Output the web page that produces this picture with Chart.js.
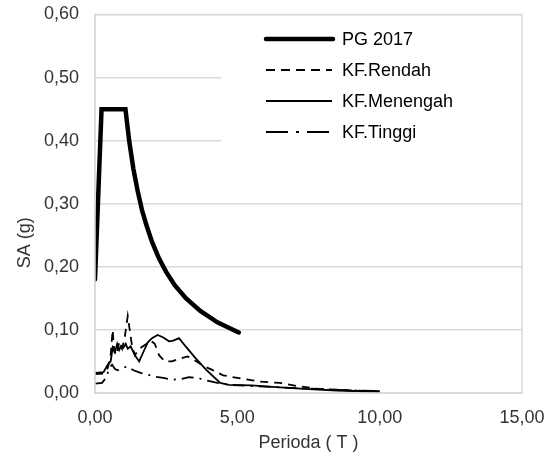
<!DOCTYPE html>
<html lang="id">
  <head>
    <meta charset="utf-8" />
    <title>Spektrum Respons</title>
    <style>
      * { margin: 0; padding: 0; box-sizing: border-box; }
      body { background: #ffffff; }
      .wrapper { position: relative; width: 555px; height: 455px; }
    </style>
  </head>
  <body>
    <div class="wrapper">
      <canvas id="chart" width="555" height="455"></canvas>
    </div>
    <script src="https://cdn.jsdelivr.net/npm/chart.js@4.4.1/dist/chart.umd.min.js"></script>
    <script>
      // Spektrum desain PG 2017
      const pgT = [0, 0.23, 1.07, 1.2, 1.35, 1.5, 1.65, 1.8, 2.0, 2.25, 2.5, 2.8, 3.2, 3.7, 4.3, 5.05];
      const pgSA = [0.18, 0.45, 0.45, 0.4, 0.355, 0.32, 0.29, 0.267, 0.24, 0.213, 0.192, 0.171, 0.15, 0.13, 0.112, 0.096];

      // KF.Rendah
      const rendahT = [0, 0.3, 0.45, 0.55, 0.62, 0.68, 0.75, 0.85, 0.95, 1.05, 1.15, 1.22, 1.3, 1.4, 1.55, 1.75, 1.95, 2.1, 2.25, 2.45, 2.7, 2.95, 3.25, 3.5, 3.8, 4.1, 4.5, 5.0, 5.8, 6.5, 7.1, 7.8, 9.0, 10.0];
      const rendahSA = [0.03, 0.031, 0.04, 0.06, 0.1, 0.065, 0.06, 0.08, 0.07, 0.09, 0.122, 0.1, 0.075, 0.06, 0.07, 0.076, 0.083, 0.078, 0.06, 0.05, 0.05, 0.054, 0.058, 0.052, 0.043, 0.037, 0.028, 0.024, 0.018, 0.016, 0.011, 0.007, 0.004, 0.003];

      // KF.Menengah
      const menengahT = [0, 0.3, 0.45, 0.55, 0.62, 0.7, 0.78, 0.85, 0.92, 1.0, 1.08, 1.15, 1.25, 1.4, 1.55, 1.7, 1.85, 2.0, 2.2, 2.4, 2.6, 2.75, 2.95, 3.2, 3.5, 3.9, 4.4, 4.7, 5.5, 6.5, 7.5, 8.5, 10.0];
      const menengahSA = [0.032, 0.033, 0.045, 0.05, 0.072, 0.065, 0.078, 0.068, 0.075, 0.072, 0.078, 0.07, 0.074, 0.06, 0.05, 0.065, 0.08, 0.087, 0.092, 0.088, 0.082, 0.083, 0.087, 0.073, 0.057, 0.037, 0.016, 0.013, 0.012, 0.009, 0.006, 0.004, 0.002];

      // KF.Tinggi
      const tinggiT = [0, 0.25, 0.4, 0.5, 0.6, 0.7, 0.8, 0.95, 1.15, 1.35, 1.6, 1.85, 2.1, 2.4, 2.7, 3.0, 3.3, 3.6, 3.9, 4.3, 4.7, 5.5, 6.5, 7.5, 8.5, 10.0];
      const tinggiSA = [0.015, 0.016, 0.025, 0.04, 0.045, 0.038, 0.036, 0.04, 0.042, 0.036, 0.032, 0.029, 0.026, 0.024, 0.021, 0.022, 0.025, 0.024, 0.02, 0.016, 0.013, 0.011, 0.009, 0.007, 0.005, 0.003];

      const xTicks = [0, 5, 10, 15];
      const yTicks = [0, 0.1, 0.2, 0.3, 0.4, 0.5, 0.6];

      const FONT = "'Liberation Sans', Arial, sans-serif";
      const TEXT = "#333333";
      const GRID = "#d9d9d9";

      const toPoints = (xs, ys) => xs.map((x, i) => ({ x: x, y: ys[i] }));
      const comma = (v) => Number(v).toFixed(2).replace(".", ",");

      // Legend in the top right of the plot area, drawn on a white box
      const legendBox = {
        id: "legendBox",
        afterDatasetsDraw(chart) {
          const { ctx, chartArea } = chart;
          const left = chartArea.left + 126;
          ctx.save();
          ctx.fillStyle = "#ffffff";
          ctx.fillRect(left, chartArea.top + 1.5, chartArea.right - left - 1, 135);
          ctx.font = "18px " + FONT;
          ctx.textBaseline = "middle";
          chart.data.datasets.forEach((ds, i) => {
            const y = chartArea.top + 24.5 + i * 31;
            ctx.beginPath();
            ctx.strokeStyle = "#000000";
            ctx.lineWidth = ds.borderWidth;
            ctx.lineCap = i === 0 ? "round" : "butt";
            ctx.setLineDash(ds.legendDash || []);
            ctx.moveTo(left + 45, y);
            ctx.lineTo(left + (i === 0 ? 112 : 111), y);
            ctx.stroke();
            ctx.setLineDash([]);
            ctx.fillStyle = "#000000";
            ctx.fillText(ds.label, left + 121, y + 1);
          });
          ctx.restore();
        },
        afterDraw(chart) {
          const { ctx, chartArea } = chart;
          ctx.save();
          // plot area frame
          ctx.strokeStyle = GRID;
          ctx.lineWidth = 1.5;
          ctx.strokeRect(chartArea.left, chartArea.top, chartArea.right - chartArea.left, chartArea.bottom - chartArea.top);
          // vertical axis title
          ctx.fillStyle = TEXT;
          ctx.font = "18px " + FONT;
          ctx.textAlign = "center";
          ctx.textBaseline = "middle";
          ctx.translate(25, (chartArea.top + chartArea.bottom) / 2 + 39);
          ctx.rotate(-Math.PI / 2);
          ctx.fillText("SA (g)", 0, 0);
          ctx.restore();
        },
      };

      new Chart(document.getElementById("chart"), {
        type: "scatter",
        plugins: [legendBox],
        data: {
          datasets: [
            {
              label: "PG 2017",
              data: toPoints(pgT, pgSA),
              borderColor: "#000000",
              borderWidth: 4.5,
              borderCapStyle: "round",
              borderJoinStyle: "miter",
              legendDash: [],
            },
            {
              label: "KF.Rendah",
              data: toPoints(rendahT, rendahSA),
              borderColor: "#000000",
              borderWidth: 1.8,
              borderDash: [8, 6],
              legendDash: [9, 6],
            },
            {
              label: "KF.Menengah",
              data: toPoints(menengahT, menengahSA),
              borderColor: "#000000",
              borderWidth: 1.8,
              legendDash: [],
            },
            {
              label: "KF.Tinggi",
              data: toPoints(tinggiT, tinggiSA),
              borderColor: "#000000",
              borderWidth: 1.8,
              borderDash: [12, 6, 2, 6],
              legendDash: [22, 8, 3, 8],
            },
          ],
        },
        options: {
          responsive: false,
          animation: false,
          showLine: true,
          layout: { padding: { top: 14.5, right: 33, left: 0, bottom: 0 } },
          elements: {
            point: { radius: 0, hoverRadius: 0 },
            line: { tension: 0, fill: false },
          },
          plugins: {
            legend: { display: false },
            tooltip: { enabled: false },
          },
          scales: {
            x: {
              type: "linear",
              min: 0,
              max: 15,
              afterFit: (s) => {
                s.height = 62;
                s.paddingLeft = 0;
                s.paddingRight = 0;
              },
              afterBuildTicks: (s) => { s.ticks = xTicks.map((v) => ({ value: v })); },
              grid: { display: false, drawTicks: false },
              border: { color: GRID, width: 1.5 },
              ticks: {
                padding: 14,
                color: TEXT,
                font: { family: FONT, size: 18 },
                callback: comma,
              },
              title: {
                display: true,
                text: "Perioda ( T )",
                color: TEXT,
                font: { family: FONT, size: 18 },
                padding: { top: 0, bottom: 1 },
              },
            },
            y: {
              type: "linear",
              min: 0,
              max: 0.6,
              afterFit: (s) => {
                s.width = 95;
                s.paddingTop = 0;
                s.paddingBottom = 0;
              },
              afterBuildTicks: (s) => { s.ticks = yTicks.map((v) => ({ value: v })); },
              grid: { color: GRID, lineWidth: 1.5, drawTicks: false },
              border: { color: GRID, width: 1.5 },
              ticks: {
                padding: 16,
                color: TEXT,
                font: { family: FONT, size: 18 },
                callback: comma,
              },
            },
          },
        },
      });
    </script>
  </body>
</html>
